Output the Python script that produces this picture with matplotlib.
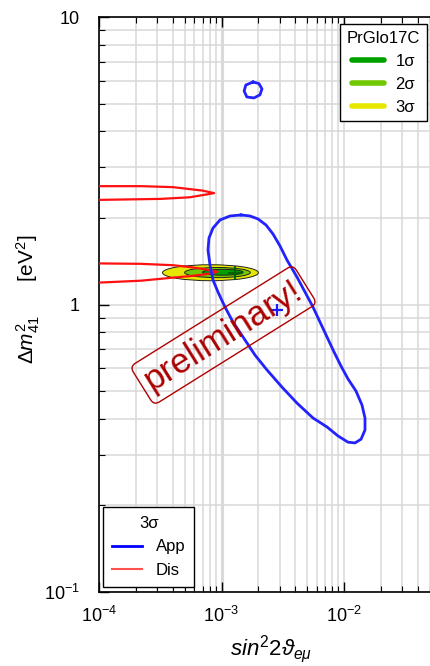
import numpy as np
import matplotlib
matplotlib.use('Agg')
import matplotlib.pyplot as plt
from matplotlib.patches import Ellipse
from matplotlib.lines import Line2D

plt.rcParams['font.family'] = ['Liberation Sans', 'DejaVu Sans']
plt.rcParams['mathtext.fontset'] = 'custom'
plt.rcParams['mathtext.rm'] = 'Liberation Sans'
plt.rcParams['mathtext.it'] = 'Liberation Sans:italic'
plt.rcParams['mathtext.bf'] = 'Liberation Sans:bold'
plt.rcParams['mathtext.sf'] = 'Liberation Sans'

# ---------------- data ----------------
# appearance (App) 3 sigma contours
app_main_x = [1.443e-3, 1.709e-3, 1.986e-3, 2.309e-3, 2.633e-3, 3.003e-3, 3.424e-3, 4.133e-3,
              4.804e-3, 5.582e-3, 6.369e-3, 7.264e-3, 8.288e-3, 9.452e-3, 1.078e-2, 1.253e-2,
              1.402e-2, 1.484e-2, 1.484e-2, 1.377e-2, 1.230e-2, 1.078e-2, 8.933e-3, 7.264e-3,
              5.582e-3, 4.133e-3, 3.118e-3, 2.352e-3, 1.877e-3, 1.498e-3, 1.241e-3, 1.068e-3,
              9.363e-4, 8.524e-4, 8.054e-4, 7.758e-4, 7.906e-4, 8.524e-4, 9.723e-4, 1.173e-3,
              1.443e-3]
app_main_y = [2.048, 2.032, 1.984, 1.890, 1.759, 1.598, 1.428, 1.246,
              1.105, 0.980, 0.869, 0.771, 0.684, 0.611, 0.551, 0.500,
              0.447, 0.403, 0.366, 0.340, 0.330, 0.332, 0.349, 0.375,
              0.403, 0.454, 0.516, 0.592, 0.667, 0.771, 0.869, 0.980,
              1.105, 1.217, 1.372, 1.547, 1.703, 1.845, 1.968, 2.032,
              2.048]
app_island_x = [1.81e-3, 2.02e-3, 2.14e-3, 2.06e-3, 1.84e-3, 1.61e-3, 1.53e-3, 1.58e-3, 1.81e-3]
app_island_y = [5.94, 5.87, 5.62, 5.36, 5.23, 5.27, 5.53, 5.80, 5.94]
app_best = (2.84e-3, 0.957)

# disappearance (Dis) 3 sigma contours
dis_upper_x = [9.3e-5, 2.2e-4, 4.0e-4, 5.5e-4, 7.0e-4, 8.7e-4, 7.8e-4, 5.5e-4, 3.2e-4, 9.3e-5]
dis_upper_y = [2.58, 2.58, 2.56, 2.52, 2.49, 2.44, 2.42, 2.36, 2.33, 2.31]
dis_lower_x = [9.3e-5, 2.2e-4, 4.0e-4, 5.5e-4, 7.0e-4, 8.4e-4, 9.3e-4, 8.4e-4, 7.0e-4, 5.5e-4,
               4.0e-4, 2.2e-4, 9.3e-5]
dis_lower_y = [1.39, 1.385, 1.37, 1.35, 1.33, 1.31, 1.30, 1.285, 1.27, 1.255, 1.24, 1.21, 1.19]

# global fit PrGlo17C regions (x range, y range) for 3, 2, 1 sigma
glob_labels = ['3σ', '2σ', '1σ']
glob_colors = ['#e6e600', '#72c800', '#00a000']
glob_xmin = [3.3e-4, 5.0e-4, 7.0e-4]
glob_xmax = [2.0e-3, 1.72e-3, 1.50e-3]
glob_ymin = [1.21, 1.24, 1.265]
glob_ymax = [1.375, 1.345, 1.325]
glob_best = (1.29e-3, 1.29)

xticks = [1e-4, 1e-3, 1e-2, 1e-1]
xticklabels = ['10$^{-4}$', '10$^{-3}$', '10$^{-2}$', '']
yticks = [0.1, 1, 10]
yticklabels = ['10$^{-1}$', '1', '10']

# ---------------- figure ----------------
fig = plt.figure(figsize=(4.3, 6.66), dpi=100)
ax = fig.add_axes([99 / 430, 74 / 666, 367.5 / 430, 575 / 666])
ax.set_xscale('log')
ax.set_yscale('log')
ax.set_xlim(1e-4, 1e-1)
ax.set_ylim(0.1, 10)

ax.grid(True, which='both', color='#d9d9d9', lw=1.1)
ax.set_axisbelow(True)
ax.tick_params(which='both', direction='in', top=True, right=True, labelsize=13)
ax.tick_params(which='major', length=7, width=1)
ax.tick_params(which='minor', length=4, width=0.8)
ax.tick_params(axis='x', which='major', pad=10)
ax.tick_params(axis='y', which='major', pad=14)
ax.set_xticks(xticks)
ax.set_xticklabels(xticklabels)
ax.set_yticks(yticks)
ax.set_yticklabels(yticklabels)
ax.xaxis.set_minor_formatter(matplotlib.ticker.NullFormatter())
ax.yaxis.set_minor_formatter(matplotlib.ticker.NullFormatter())
ax.xaxis.get_major_ticks()[1].gridline.set_linewidth(2.2)
for sp in ax.spines.values():
    sp.set_linewidth(1.2)

# global fit ellipses drawn in log space
logtr = ax.transLimits + ax.transAxes
for xmn, xmx, ymn, ymx, c in zip(glob_xmin, glob_xmax, glob_ymin, glob_ymax, glob_colors):
    lx0, lx1 = np.log10(xmn), np.log10(xmx)
    ly0, ly1 = np.log10(ymn), np.log10(ymx)
    e = Ellipse(((lx0 + lx1) / 2, (ly0 + ly1) / 2), lx1 - lx0, ly1 - ly0,
                transform=logtr, fc=c, ec='#222222', lw=0.7, zorder=2)
    ax.add_patch(e)
ax.plot(*glob_best, marker='+', color='#006400', ms=10, mew=1.5, zorder=5)

# Dis contours
ax.plot(dis_upper_x, dis_upper_y, color='#ff1010', lw=1.6, zorder=3)
ax.plot(dis_lower_x, dis_lower_y, color='#ff1010', lw=1.6, zorder=3)

# App contours
ax.plot(app_main_x, app_main_y, color='#2222ff', lw=2, zorder=4, solid_joinstyle='round')
ax.plot(app_island_x, app_island_y, color='#2222ff', lw=2, zorder=4, solid_joinstyle='round')
ax.plot(*app_best, marker='+', color='#1a1aff', ms=9, mew=1.6, zorder=5)

# legends
h1 = [Line2D([], [], color=c, lw=4, solid_capstyle='round') for c in glob_colors[::-1]]
leg1 = ax.legend(h1, glob_labels[::-1], title='PrGlo17C', loc='upper right',
                 bbox_to_anchor=(427 / 430, 1 - 24 / 666), bbox_transform=fig.transFigure,
                 borderaxespad=0, fancybox=False, edgecolor='black', framealpha=1,
                 fontsize=12, title_fontsize=12, handlelength=1.9, labelspacing=0.48,
                 handletextpad=0.7, borderpad=0.4)
leg1.get_frame().set_linewidth(1)
ax.add_artist(leg1)

h2 = [Line2D([], [], color='#0000ff', lw=2), Line2D([], [], color='#ff5050', lw=1.5)]
leg2 = ax.legend(h2, ['App', 'Dis'], title='3σ', loc='lower left',
                 bbox_to_anchor=(103 / 430, 1 - 587 / 666), bbox_transform=fig.transFigure,
                 borderaxespad=0, fancybox=False, edgecolor='black', framealpha=1,
                 fontsize=12, title_fontsize=12, handlelength=1.8, labelspacing=0.5,
                 handletextpad=0.8, borderpad=0.55)
leg2.get_frame().set_linewidth(1)

# preliminary stamp
fig.text(223.5 / 430, 1 - 335 / 666, 'preliminary!', rotation=32, rotation_mode='anchor',
         ha='center', va='center', fontsize=25, color='#aa0000',
         bbox=dict(boxstyle='round,pad=0.18', fc='none', ec='#b00000', lw=1))

ax.set_xlabel(r'$sin^{2}2\vartheta_{e\mu}$', fontsize=16)
ax.set_ylabel(r'$\Delta m^{2}_{41}$      [eV$^{2}$]', fontsize=15)
ax.xaxis.set_label_coords((271 - 99) / 367.5, -(633 - 592) / 575)
ax.yaxis.set_label_coords(-(99 - 42) / 367.5, (592 - 299) / 575)

fig.savefig('out.png', dpi=100)
